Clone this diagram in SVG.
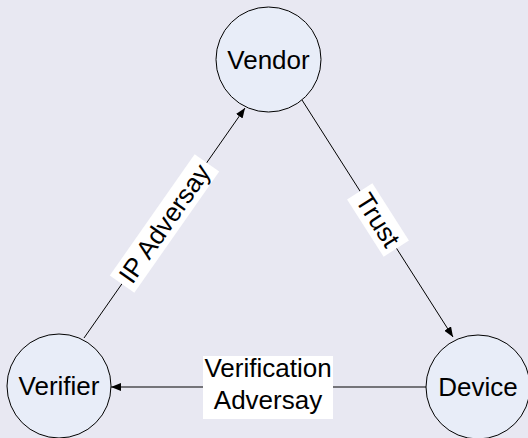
<svg xmlns="http://www.w3.org/2000/svg" width="528" height="438" viewBox="0 0 528 438">
<style>
.node circle{fill:#E8EDF8;stroke:#000;stroke-width:1}
text{font-family:"Liberation Sans",Arial,sans-serif;font-size:26px;fill:#000;text-anchor:middle}
.edge{stroke:#000;stroke-width:1;fill:none;marker-end:url(#arr)}
.lbl{fill:#fff}
</style>
<defs>
<marker id="arr" viewBox="0 0 10 8" refX="10" refY="4" markerWidth="10" markerHeight="8" markerUnits="userSpaceOnUse" orient="auto">
<path d="M0,0 L10,4 L0,8 Z" fill="#000"/>
</marker>
</defs>
<rect width="528" height="438" fill="#E8E8F2"/>
<g id="connectors">
<line class="edge" x1="84" y1="338" x2="245" y2="108"/>
<line class="edge" x1="302" y1="100" x2="453" y2="337"/>
<line class="edge" x1="426" y1="387" x2="111" y2="387"/>
<g transform="translate(164.5,223.5) rotate(-55)">
<rect class="lbl" x="-74" y="-15" width="148" height="30"/>
<text x="0" y="9">IP Adversay</text>
</g>
<g transform="translate(378,220) rotate(57.5)">
<rect class="lbl" x="-34" y="-15" width="68" height="30"/>
<text x="0" y="9">Trust</text>
</g>
<rect class="lbl" x="203" y="356" width="130" height="63"/>
<text x="268" y="377">Verification</text>
<text x="268" y="409">Adversay</text>
</g>
<g id="vendor" class="node">
<circle cx="268.5" cy="59.5" r="52.5"/>
<text x="268.5" y="68.5">Vendor</text>
</g>
<g id="verifier" class="node">
<circle cx="59" cy="386" r="52"/>
<text x="59" y="395">Verifier</text>
</g>
<g id="device" class="node">
<circle cx="478" cy="387" r="52"/>
<text x="478" y="396">Device</text>
</g>
</svg>
